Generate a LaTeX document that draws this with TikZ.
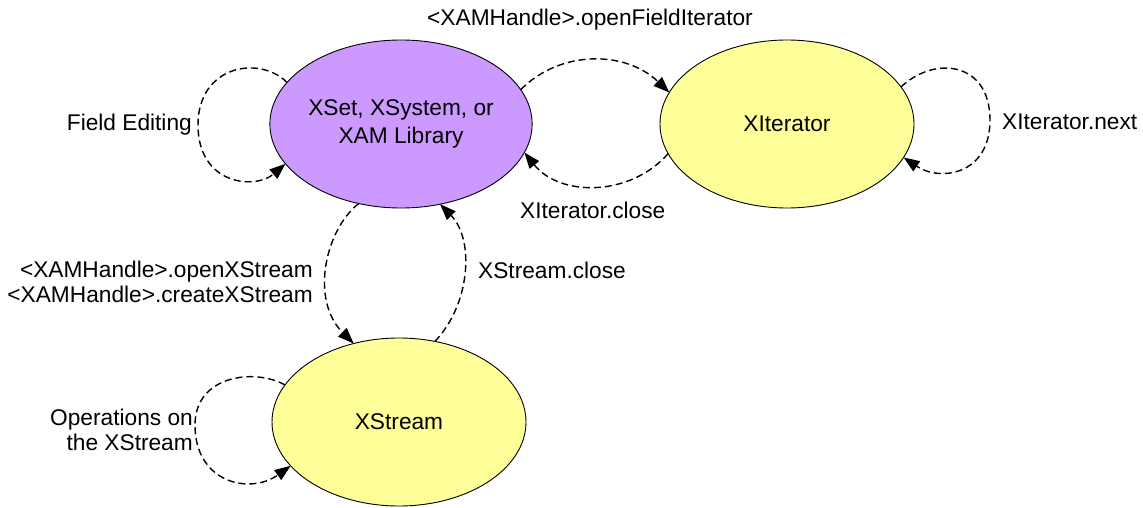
\documentclass[tikz,border=0pt]{standalone}
\usepackage{fontspec}
\setmainfont{Liberation Sans}
\usetikzlibrary{shapes.geometric,arrows.meta}
\definecolor{lilac}{RGB}{204,153,255}
\definecolor{paleyellow}{RGB}{255,255,153}
\begin{document}
\begin{tikzpicture}[x=1pt,y=-1pt,
  state/.style={ellipse,draw=black,line width=0.9pt,minimum width=254pt,minimum height=168pt,
    inner sep=0pt,outer sep=0pt,align=center,font=\fontsize{22.7}{28}\selectfont},
  lbl/.style={inner sep=0pt,font=\fontsize{22.7}{25}\selectfont},
  conn/.style={draw=black,line width=1.4pt,dash pattern=on 7pt off 4pt,
    -{Triangle[length=16pt,width=12pt]}}]
\useasboundingbox (0,0) rectangle (1143,508);

\node[state,fill=lilac] (p) at (401,124) {XSet, XSystem, or\\XAM Library};
\node[state,fill=paleyellow] (it) at (787,124) {XIterator};
\node[state,fill=paleyellow] (xs) at (399,422) {XStream};

\node[lbl] (lofi) at (590,20) {<XAMHandle>.openFieldIterator};
\node[lbl,anchor=east] (lfe) at (192,125) {Field Editing};
\node[lbl,anchor=west] (lnext) at (1002,122) {XIterator.next};
\node[lbl,anchor=west] (lclose) at (520,210) {XIterator.close};
\node[lbl,anchor=east,align=right] (lopen) at (313,282) {<XAMHandle>.openXStream\\<XAMHandle>.createXStream};
\node[lbl,anchor=west] (lxsc) at (478,270) {XStream.close};
\node[lbl,anchor=east,align=right] (lops) at (193,430) {Operations on\\the XStream};

% Field Editing loop
\path[conn] (p.160.5) .. controls (260,55) and (198,65) .. (198,125)
  .. controls (198,185) and (255,190) .. (p.199.5);
% openFieldIterator
\path[conn] (p.16.2) .. controls (560,50) and (625,50) .. (it.165.4);
% XIterator.close
\path[conn] (it.194) .. controls (630,197) and (560,197) .. (p.347);
% XIterator.next loop
\path[conn] (it.18.7) .. controls (935,55) and (990,62) .. (990,120)
  .. controls (990,175) and (940,182) .. (it.-16);
% open/create XStream
\path[conn] (p.242) .. controls (325,230) and (310,300) .. (xs.120);
% XStream.close
\path[conn] (xs.66.6) .. controls (470,305) and (475,240) .. (p.296.6);
% Operations loop
\path[conn] (xs.162.5) .. controls (255,368) and (195,375) .. (195,425)
  .. controls (195,483) and (250,495) .. (xs.202.3);
\end{tikzpicture}
\end{document}
